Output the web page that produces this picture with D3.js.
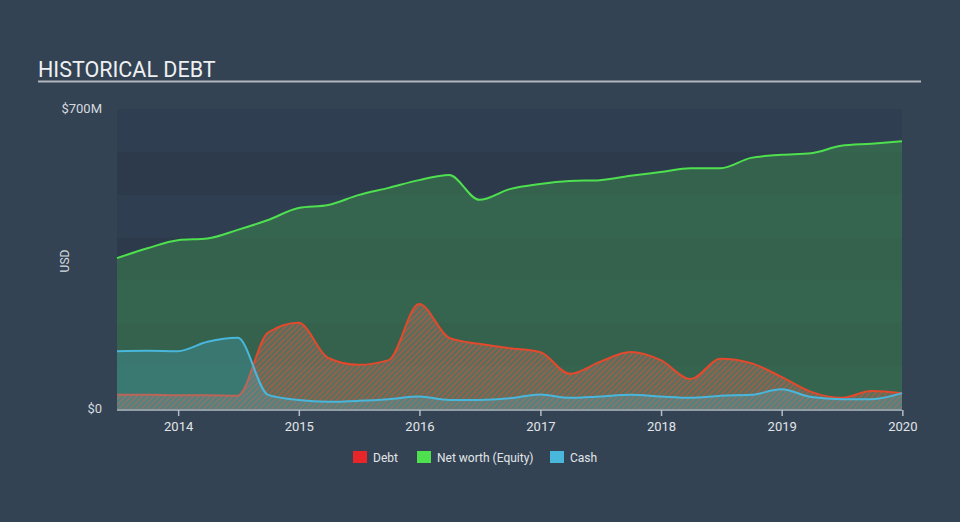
<!DOCTYPE html>
<html>
<head>
<meta charset="utf-8">
<script src="https://cdn.jsdelivr.net/npm/d3@7"></script>
<style>
  body { margin: 0; background: #334354; }
  svg { display: block; font-family: Roboto, "Open Sans", sans-serif; }
</style>
</head>
<body>
<svg id="chart" width="960" height="522"></svg>
<script>
// quarter-end dates, values in $M
const dates = [
  "2013-06-30","2013-09-30","2013-12-31","2014-03-31","2014-06-30","2014-09-30","2014-12-31",
  "2015-03-31","2015-06-30","2015-09-30","2015-12-31","2016-03-31","2016-06-30","2016-09-30",
  "2016-12-31","2017-03-31","2017-06-30","2017-09-30","2017-12-31","2018-03-31","2018-06-30",
  "2018-09-30","2018-12-31","2019-03-31","2019-06-30","2019-09-30","2019-12-31"
];
const debt = [33, 33, 32, 32, 31, 178, 201, 119, 103, 114, 245, 166, 152, 142,
  133, 82, 110, 133, 114, 70, 117, 107, 75, 40, 26, 42, 37];
const equity = [352, 375, 394, 398, 418, 441, 469, 476, 499, 516, 534, 546, 488, 513,
  525, 532, 534, 544, 553, 562, 562, 586, 593, 597, 614, 619, 625];
const cash = [135, 136, 135, 157, 166, 33, 21, 17, 19, 23, 29, 21, 21, 25,
  34, 26, 29, 33, 29, 26, 31, 33, 46, 28, 23, 23, 37];
const yearTicks = [2014, 2015, 2016, 2017, 2018, 2019, 2020];
const legendItems = ["Debt", "Net worth (Equity)", "Cash"];

const parse = d3.timeParse("%Y-%m-%d");
const rows = dates.map((d, i) => ({ date: parse(d), debt: debt[i], equity: equity[i], cash: cash[i] }));

const svg = d3.select("#chart");
const plotL = 117, plotR = 902, plotT = 109, plotB = 409;

const x = d3.scaleTime()
  .domain([parse("2013-06-30"), parse("2019-12-31")])
  .range([plotL, plotR]);
const y = d3.scaleLinear().domain([0, 700]).range([plotB, plotT]);

// title
svg.append("text")
  .attr("x", 38).attr("y", 77)
  .attr("fill", "#eef0f2")
  .style("font-size", "21.5px")
  .text("HISTORICAL DEBT");
svg.append("line")
  .attr("x1", 38).attr("x2", 921).attr("y1", 81.5).attr("y2", 81.5)
  .attr("stroke", "#b4b8bd").attr("stroke-width", 2);

// background bands
const bands = d3.range(0, 700, 100);
svg.selectAll("rect.band")
  .data(bands)
  .join("rect")
  .attr("class", "band")
  .attr("x", plotL)
  .attr("width", plotR - plotL)
  .attr("y", d => y(d + 100))
  .attr("height", d => y(d) - y(d + 100))
  .attr("fill", (d, i) => i % 2 === 0 ? "#2f3e50" : "#2c3a4b");

// hatch for debt
const defs = svg.append("defs");
const pat = defs.append("pattern")
  .attr("id", "hatch")
  .attr("patternUnits", "userSpaceOnUse")
  .attr("width", 4).attr("height", 4)
  .attr("patternTransform", "rotate(45)");
pat.append("rect").attr("width", 4).attr("height", 4).attr("fill", "#8a8a86").attr("fill-opacity", 0.35);
pat.append("rect").attr("width", 2).attr("height", 4).attr("fill", "#d8502f").attr("fill-opacity", 0.5);

const curve = d3.curveMonotoneX;
const area = key => d3.area().curve(curve).x(d => x(d.date)).y0(y(0)).y1(d => y(d[key]));
const line = key => d3.line().curve(curve).x(d => x(d.date)).y(d => y(d[key]));

// equity
svg.append("path").datum(rows).attr("d", area("equity"))
  .attr("fill", "#4ee04e").attr("fill-opacity", 0.24);
svg.append("path").datum(rows).attr("d", line("equity"))
  .attr("fill", "none").attr("stroke", "#4ee04e").attr("stroke-width", 2);

// debt
svg.append("path").datum(rows).attr("d", area("debt"))
  .attr("fill", "url(#hatch)");
svg.append("path").datum(rows).attr("d", line("debt"))
  .attr("fill", "none").attr("stroke", "#e3492c").attr("stroke-width", 2);

// cash
svg.append("path").datum(rows).attr("d", area("cash"))
  .attr("fill", "#49b6dc").attr("fill-opacity", 0.25);
svg.append("path").datum(rows).attr("d", line("cash"))
  .attr("fill", "none").attr("stroke", "#49b6dc").attr("stroke-width", 2);

// x axis
const xAxis = svg.append("g")
  .attr("transform", `translate(0,${plotB + 1})`)
  .call(d3.axisBottom(x)
    .tickValues(yearTicks.map(yr => new Date(yr, 0, 1)))
    .tickFormat(d3.timeFormat("%Y"))
    .tickSize(6));
xAxis.select(".domain").attr("stroke", "#b4bcc6").attr("stroke-width", 1.5).attr("d", `M${plotL},0H${plotR}`);
xAxis.selectAll(".tick line").attr("stroke", "#b4bcc6").attr("stroke-width", 1.5);
xAxis.selectAll(".tick text")
  .attr("fill", "#e2e5e8")
  .attr("dy", "0.9em")
  .style("font-size", "13px")
  .style("font-family", "Roboto, sans-serif");

// y labels
svg.selectAll("text.ylab")
  .data([0, 700])
  .join("text")
  .attr("class", "ylab")
  .attr("x", 102)
  .attr("y", d => y(d) + 4)
  .attr("text-anchor", "end")
  .attr("fill", "#d6dadf")
  .style("font-size", "13px")
  .text(d => d === 0 ? "$0" : `$${d}M`);
svg.append("text")
  .attr("transform", "translate(69,261) rotate(-90)")
  .attr("text-anchor", "middle")
  .attr("fill", "#d6dadf")
  .style("font-size", "12px")
  .text("USD");

// legend
const legendColors = ["#e8262a", "#4ee04e", "#49b6dc"];
const legendX = [353, 417, 550];
const lg = svg.selectAll("g.leg")
  .data(legendItems)
  .join("g")
  .attr("class", "leg")
  .attr("transform", (d, i) => `translate(${legendX[i]},451)`);
lg.append("rect").attr("width", 14).attr("height", 12).attr("fill", (d, i) => legendColors[i]);
lg.append("text")
  .attr("x", 20).attr("y", 10.5)
  .attr("fill", "#e2e5e8")
  .style("font-size", "12px")
  .text(d => d);
</script>
</body>
</html>
